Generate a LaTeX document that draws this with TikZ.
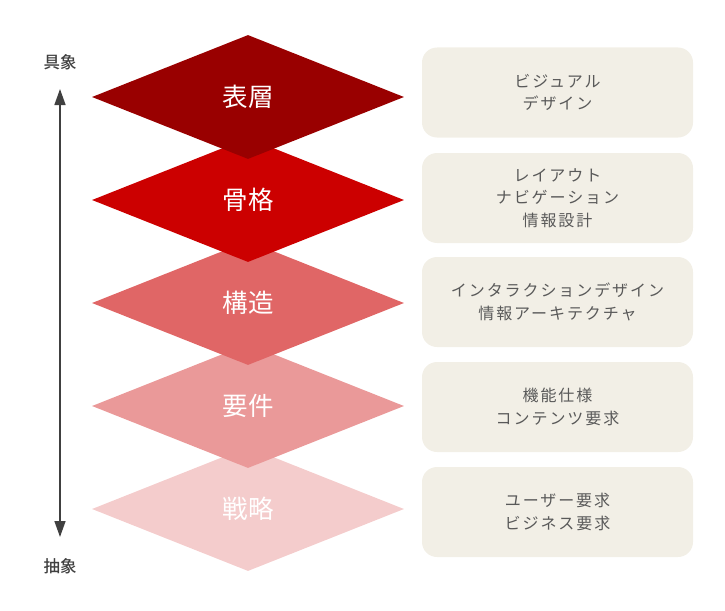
\documentclass[tikz,border=0pt]{standalone}
\usepackage{fontspec}
\usetikzlibrary{shapes.geometric,arrows.meta}
\newfontfamily\jpfont{Noto Sans CJK JP}
\newfontfamily\jpboxfont[LetterSpace=12]{Noto Sans CJK JP}
\newfontfamily\jplabfont{Noto Sans CJK JP Medium}
\definecolor{lay1}{HTML}{990000}
\definecolor{lay2}{HTML}{CC0000}
\definecolor{lay3}{HTML}{E06666}
\definecolor{lay4}{HTML}{EA9999}
\definecolor{lay5}{HTML}{F4CCCC}
\definecolor{boxbg}{HTML}{F2EFE6}
\definecolor{boxtxt}{HTML}{595959}
\definecolor{axis}{HTML}{404040}
\tikzset{
  layer/.style={diamond, fill=#1, draw=none, minimum width=312pt, minimum height=124pt,
    inner sep=0pt, aspect=2.516, text=white, font=\jpfont\fontsize{25.5}{28}\selectfont},
  infobox/.style={rounded corners=15pt, fill=boxbg, draw=none, minimum width=271pt,
    minimum height=90pt, inner sep=0pt, align=center, text=boxtxt,
    font=\jpboxfont\fontsize{16}{22.5}\selectfont},
  axislabel/.style={text=axis, font=\jplabfont\fontsize{16.5}{18}\selectfont, inner sep=0pt},
}
\begin{document}
\begin{tikzpicture}[x=1pt,y=-1pt]
\useasboundingbox (0,0) rectangle (725,610);
% layers, drawn bottom first
\node[layer=lay5] (l5) at (248,509) {戦略};
\node[layer=lay4] (l4) at (248,406) {要件};
\node[layer=lay3] (l3) at (248,303) {構造};
\node[layer=lay2] (l2) at (248,200) {骨格};
\node[layer=lay1] (l1) at (248,97) {表層};
% boxes
\node[infobox] (b1) at (557.5,92.5) {ビジュアル\\デザイン};
\node[infobox] (b2) at (557.5,198) {レイアウト\\ナビゲーション\\情報設計};
\node[infobox] (b3) at (557.5,302) {インタラクションデザイン\\情報アーキテクチャ};
\node[infobox] (b4) at (557.5,407) {機能仕様\\コンテンツ要求};
\node[infobox] (b5) at (557.5,512) {ユーザー要求\\ビジネス要求};
% axis
\node[axislabel] (top) at (60,62) {具象};
\node[axislabel] (bot) at (60,566) {抽象};
\coordinate (atop) at (60,89);
\coordinate (abot) at (60,537);
\draw[axis, line width=1.5pt, {Triangle[width=11pt,length=16pt]}-{Triangle[width=11pt,length=16pt]}] (atop) -- (abot);
\end{tikzpicture}
\end{document}
